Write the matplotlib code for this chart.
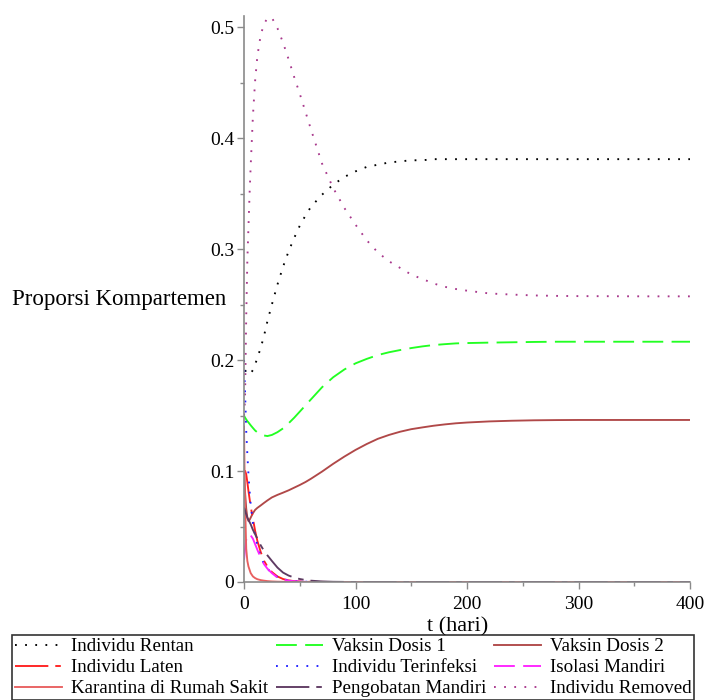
import matplotlib
matplotlib.use('Agg')
import matplotlib.pyplot as plt
from matplotlib.ticker import MultipleLocator, FuncFormatter

plt.rcParams['font.family'] = ['Liberation Serif', 'DejaVu Serif']
plt.rcParams['lines.scale_dashes'] = False

# time grid (hari)
t = [0, 0.5, 1, 2, 3, 4, 5, 6, 8, 10, 12, 15, 18, 21, 25, 30, 35, 40, 45, 50,
     55, 60, 70, 80, 90, 100, 110, 120, 130, 140, 150, 160, 170, 180, 190, 200,
     220, 240, 260, 280, 300, 330, 360, 400]

# values
rentan = [0.200, 0.194, 0.191, 0.189, 0.188, 0.187, 0.187, 0.188, 0.191, 0.196, 0.202, 0.211,
          0.222, 0.235, 0.250, 0.268, 0.284, 0.298, 0.310, 0.321, 0.330, 0.338, 0.349, 0.358,
          0.365, 0.370, 0.374, 0.376, 0.378, 0.379, 0.380, 0.380, 0.381, 0.381, 0.381, 0.381,
          0.381, 0.381, 0.381, 0.381, 0.381, 0.381, 0.381, 0.381]
vaksin1 = [0.150, 0.149, 0.148, 0.1465, 0.145, 0.1438, 0.1425, 0.1412, 0.1388, 0.1365, 0.1348, 0.133,
           0.132, 0.1315, 0.1325, 0.135, 0.1384, 0.143, 0.148, 0.1535, 0.159, 0.1645, 0.1755, 0.1845,
           0.1915, 0.197, 0.201, 0.2045, 0.207, 0.209, 0.2108, 0.2123, 0.2135, 0.2143, 0.215, 0.2153,
           0.2157, 0.216, 0.2163, 0.2165, 0.2165, 0.2165, 0.2165, 0.2165]
vaksin2 = [0.100, 0.090, 0.080, 0.066, 0.058, 0.055, 0.056, 0.058, 0.062, 0.065, 0.0668, 0.069,
           0.0713, 0.0735, 0.0762, 0.0785, 0.0805, 0.0826, 0.085, 0.0874, 0.090, 0.093, 0.0995, 0.1065,
           0.113, 0.119, 0.1243, 0.129, 0.1325, 0.1354, 0.1377, 0.1393, 0.1408, 0.142, 0.143, 0.1437,
           0.1447, 0.1453, 0.1457, 0.1459, 0.146, 0.146, 0.146, 0.146]
laten = [0.100, 0.100, 0.100, 0.097, 0.090, 0.082, 0.075, 0.068, 0.057, 0.046, 0.037, 0.027,
         0.019, 0.014, 0.009, 0.005, 0.0027, 0.0015, 0.0008, 0.0005, 0.0003, 0.0002, 0.0001, 0,
         0, 0, 0, 0, 0, 0, 0, 0, 0, 0, 0, 0, 0, 0, 0, 0, 0, 0, 0, 0]
terinfeksi = [0.200, 0.185, 0.170, 0.136, 0.115, 0.097, 0.082, 0.070, 0.053, 0.042, 0.033, 0.023,
              0.016, 0.012, 0.008, 0.0045, 0.0025, 0.0014, 0.0008, 0.0005, 0.0003, 0.0002, 0.0001, 0,
              0, 0, 0, 0, 0, 0, 0, 0, 0, 0, 0, 0, 0, 0, 0, 0, 0, 0, 0, 0]
isolasi = [0.020, 0.025, 0.030, 0.038, 0.042, 0.043, 0.043, 0.042, 0.039, 0.034, 0.029, 0.022,
           0.016, 0.012, 0.008, 0.004, 0.002, 0.0012, 0.0007, 0.0004, 0.0002, 0.0001, 0, 0,
           0, 0, 0, 0, 0, 0, 0, 0, 0, 0, 0, 0, 0, 0, 0, 0, 0, 0, 0, 0]
karantina = [0.140, 0.100, 0.070, 0.030, 0.019, 0.014, 0.011, 0.008, 0.005, 0.0035, 0.0025, 0.0017,
             0.0012, 0.0008, 0.0005, 0.0003, 0.0002, 0.0001, 0, 0, 0, 0, 0, 0,
             0, 0, 0, 0, 0, 0, 0, 0, 0, 0, 0, 0, 0, 0, 0, 0, 0, 0, 0, 0]
pengobatan = [0.067, 0.066, 0.064, 0.061, 0.058, 0.056, 0.054, 0.052, 0.047, 0.043, 0.039, 0.033,
              0.028, 0.024, 0.019, 0.013, 0.0085, 0.0058, 0.004, 0.0027, 0.0018, 0.0012, 0.0005, 0.0002,
              0.0001, 0, 0, 0, 0, 0, 0, 0, 0, 0, 0, 0, 0, 0, 0, 0, 0, 0, 0, 0]
removed = [0.150, 0.155, 0.170, 0.240, 0.290, 0.320, 0.350, 0.375, 0.420, 0.452, 0.474, 0.493,
           0.503, 0.508, 0.5085, 0.499, 0.486, 0.471, 0.455, 0.440, 0.424, 0.408, 0.377, 0.355,
           0.337, 0.322, 0.308, 0.297, 0.289, 0.283, 0.277, 0.273, 0.269, 0.266, 0.264, 0.2625,
           0.260, 0.259, 0.2582, 0.2578, 0.2576, 0.2575, 0.2574, 0.2574]

dot = (0, (1.3, 6.0))
dash = (0, (15, 6))
dashdot = (0, (24, 5, 4, 5))

fig = plt.figure(figsize=(7.05, 7.0), dpi=100)
ax = fig.add_axes([244/705, 1-582/700, 446/705, 566/700])

lw = 1.35
l_s, = ax.plot(t, rentan, color='black', ls=dot, lw=lw, label='Individu Rentan')
l_v1, = ax.plot(t, vaksin1, color='#22ff22', ls=dash, lw=lw, label='Vaksin Dosis 1')
l_v2, = ax.plot(t, vaksin2, color='#b04848', ls='-', lw=lw, label='Vaksin Dosis 2')
l_e, = ax.plot(t, laten, color='#ff2020', ls=dashdot, lw=lw, label='Individu Laten')
l_i, = ax.plot(t, terinfeksi, color='#2020ff', ls=dot, lw=lw, label='Individu Terinfeksi')
l_q, = ax.plot(t, isolasi, color='#ff22ff', ls=dash, lw=lw, label='Isolasi Mandiri')
l_h, = ax.plot(t, karantina, color='#e86060', ls='-', lw=lw, label='Karantina di Rumah Sakit')
l_t, = ax.plot(t, pengobatan, color='#5e3a62', ls=dashdot, lw=lw, label='Pengobatan Mandiri')
l_r, = ax.plot(t, removed, color='#a8388c', ls=dot, lw=lw, label='Individu Removed')

ax.set_xlim(0, 400)
ax.set_ylim(0, 0.51)
for side in ['top', 'right']:
    ax.spines[side].set_visible(False)
for side in ['left', 'bottom']:
    ax.spines[side].set_color('#8a8a8a')
    ax.spines[side].set_linewidth(1.2)

ax.xaxis.set_major_locator(MultipleLocator(100))
ax.xaxis.set_minor_locator(MultipleLocator(50))
ax.yaxis.set_major_locator(MultipleLocator(0.1))
ax.yaxis.set_minor_locator(MultipleLocator(0.05))
ax.yaxis.set_major_formatter(FuncFormatter(lambda v, p: '0' if abs(v) < 1e-9 else '%g' % v))
ax.tick_params(which='major', length=5, width=1, color='#8a8a8a', labelsize=14, pad=2)
ax.tick_params(axis='x', which='major', pad=5)
ax.tick_params(which='minor', length=3, width=1, color='#8a8a8a')

ax.set_xlabel('t (hari)', fontsize=16)
ax.xaxis.set_label_coords(0.478, -0.062)
ax.set_ylabel('Proporsi Kompartemen', fontsize=16.5, rotation=0, ha='right', va='center')
ax.yaxis.set_label_coords(-0.04, 0.5)

handles = [l_s, l_e, l_h, l_v1, l_i, l_t, l_v2, l_q, l_r]
leg = fig.legend(handles=handles, loc='upper left', bbox_to_anchor=(12/705, 1-635/700),
                 ncol=3, fontsize=13.7, frameon=True, fancybox=False, handlelength=2.5,
                 handletextpad=0.45, columnspacing=0.4, labelspacing=0.2, borderpad=0.15,
                 borderaxespad=0)
leg.get_frame().set_edgecolor('black')
leg.get_frame().set_linewidth(1.2)

fig.savefig('out.png', dpi=100)
